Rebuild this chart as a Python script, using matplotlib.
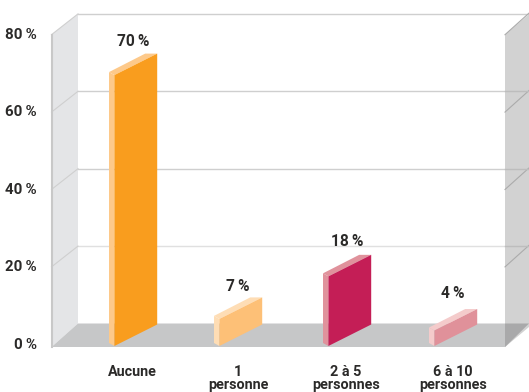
import matplotlib
matplotlib.use("Agg")
import matplotlib.pyplot as plt
from matplotlib.patches import Polygon

categories = ["Aucune", "1\npersonne", "2 à 5\npersonnes", "6 à 10\npersonnes"]
values = [70, 7, 18, 4]
value_labels = ["70\u2009%", "7\u2009%", "18\u2009%", "4\u2009%"]
front_colors = ["#F99D1E", "#FDC077", "#C41E56", "#E0919A"]
side_colors = ["#FDC98A", "#FEDDB5", "#E0929C", "#F4CBCB"]
ticks = [0, 20, 40, 60, 80]

plt.rcParams["font.family"] = ["Roboto", "DejaVu Sans"]
plt.rcParams["font.weight"] = "bold"

# y axis runs in percent, x axis in figure pixels
PX = 3.87
BASE = 323.5
def py(p):
    return (BASE - p) / PX

DEPTH = py(347)
SLOPE = 0.7  # walls lose a little height towards the front
TOP = 80
text_color = "#2B2A29"
line_color = "#CFCFCF"

fig = plt.figure(figsize=(5.29, 3.92), dpi=100)
ax = fig.add_axes([0, 0, 1, 1])
ax.set_xlim(0, 529)
ax.set_ylim(py(392), py(0))
ax.axis("off")

def poly(pts, color, z):
    ax.add_patch(Polygon(pts, closed=True, fc=color, ec="none", zorder=z))

xl, xb, xr, xe = 51.5, 78, 505, 529

# side walls and floor
poly([(xl, DEPTH), (xb, 0), (xb, TOP), (xl, TOP + DEPTH + SLOPE)], "#E4E5E7", 1)
poly([(xl, DEPTH), (xb, 0), (xe, 0), (xr, DEPTH)], "#C6C7C8", 1)
poly([(xr, DEPTH), (xe, py(327)), (xe, TOP - 0.1), (xr, TOP + DEPTH + SLOPE)], "#D2D2D2", 2)
poly([(xr, 0), (xe, 0), (xr, DEPTH)], "#A9A9AA", 3)
ax.plot([xl, xl], [DEPTH, TOP + DEPTH + SLOPE], color="#C8C8C8", lw=1.5, zorder=3)

# grid lines on the back and on both walls
for t in ticks[1:]:
    back = "#E0E0E0" if t == 20 else line_color
    ax.plot([xb, xe], [t, t], color=back, lw=1, zorder=1.5)
    ax.plot([xl, xb], [t + DEPTH + SLOPE, t], color=line_color, lw=0.8, zorder=1.5)
    ax.plot([xr, xe], [t + DEPTH + SLOPE, t + 0.2], color="#ABABAB", lw=0.8, zorder=3)
    if t < 80:
        ax.plot([xr, xe], [t, t], color="#BDBDBD", lw=1, zorder=3)

# bars: light left side and top, full colour front face
side_x = [109, 214, 323, 429]
label_gap = [12, 11, 13, 16]
SIDE, WIDTH = 5.4, 42.8
drop = (346 - 343) / PX
base_r = py(324.5)
base_l = py(346)
for x, v, fc, sc in zip(side_x, values, front_colors, side_colors):
    f0 = x + SIDE
    f1 = f0 + WIDTH
    poly([(x, base_l + drop), (f0, base_l), (f0, v + base_l), (x, v + base_l + drop)], sc, 4)
    poly([(x, v + base_l + drop), (f1 - 12, v + base_r), (f1, v + base_r), (f0, v + base_l)], sc, 4)
    poly([(f0, base_l), (f1, base_r), (f1, v + base_r), (f0, v + base_l)], fc, 5)

for x, v, lab, gap in zip(side_x, values, value_labels, label_gap):
    ax.text(x + 24, v + base_r + gap / PX, lab, ha="center", va="center",
            fontsize=11.2, color=text_color, zorder=6)

# y tick labels follow the front edge
tick_y = [345, 267, 190, 112, 35]
for t, y in zip(ticks, tick_y):
    ax.text(37, py(y), f"{t}\u2009%", ha="right", va="center", fontsize=10.8, color=text_color)

# category labels under the floor
cat_x = [132, 238, 346, 453]
for x, lab in zip(cat_x, categories):
    ax.text(x, py(364.5), lab, ha="center", va="top", fontsize=10.4, color=text_color,
            linespacing=0.98)

fig.savefig("out.png", dpi=100)
